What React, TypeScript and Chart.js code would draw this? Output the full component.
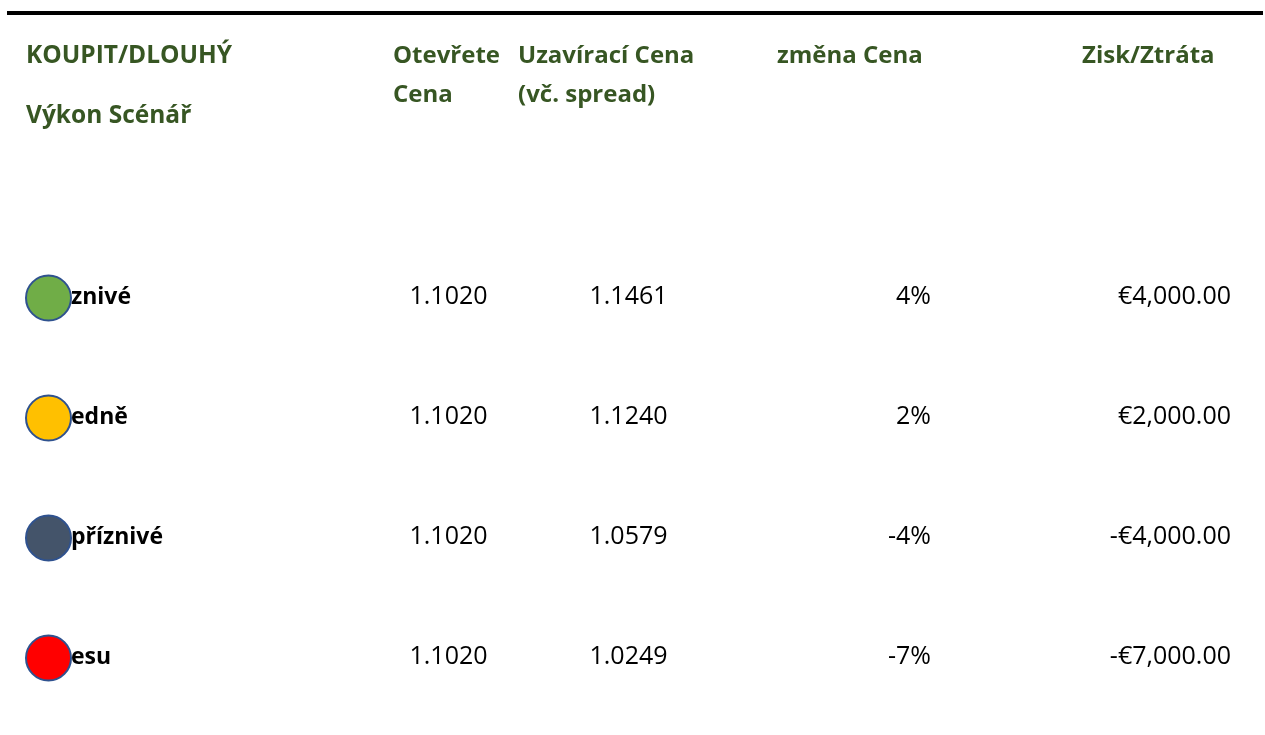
import React, { useEffect, useRef } from "react";
import { Chart, registerables } from "chart.js";

Chart.register(...registerables);

// ---- Data ----
const scenarios = ["Příznivé", "Středně", "Nepříznivé", "Stresu"];
const openPrices = [1.102, 1.102, 1.102, 1.102];
const closePrices = [1.1461, 1.124, 1.0579, 1.0249];
const priceChanges = [4, 2, -4, -7];
const profitLoss = [4000, 2000, -4000, -7000];
const scenarioColors = ["#70AD47", "#FFC000", "#44546A", "#FF0000"];

const titleLines = ["KOUPIT/DLOUHÝ", "Výkon Scénář"];
const headerOpen = ["Otevřete", "Cena"];
const headerClose = ["Uzavírací Cena", "(vč. spread)"];
const headerChange = ["změna Cena"];
const headerPL = ["Zisk/Ztráta"];

// ---- Layout ----
const W = 1265;
const H = 735;
const ROW0 = 298;
const ROWSTEP = 120;
const MARKER_X = 48.5;
const LABEL_VISIBLE_X = 71;
const hiddenChars = [3, 3, 2, 3]; // letters of each label covered by the marker
const GREEN = "#375623";
const FONT = "'Open Sans', 'Noto Sans', sans-serif";

const fmtPrice = (v: number) => v.toFixed(4);
const fmtPct = (v: number) => `${v}%`;
const fmtEur = (v: number) =>
  (v < 0 ? "-" : "") +
  "€" +
  Math.abs(v).toLocaleString("en-US", { minimumFractionDigits: 2, maximumFractionDigits: 2 });

const tablePlugin = {
  id: "tableText",
  beforeDatasetsDraw(chart: any) {
    const ctx = chart.ctx as CanvasRenderingContext2D;
    const y = chart.scales.y;
    ctx.save();
    // top rule
    ctx.fillStyle = "#000000";
    ctx.fillRect(7, 11, 1256, 4);

    // headers
    ctx.fillStyle = GREEN;
    ctx.textBaseline = "alphabetic";
    ctx.textAlign = "left";
    ctx.font = `bold 24.5px ${FONT}`;
    ctx.fillText(titleLines[0], 26, 63);
    ctx.fillText(titleLines[1], 26, 123);
    ctx.font = `bold 24px ${FONT}`;
    ctx.fillText(headerOpen[0], 393, 63);
    ctx.fillText(headerOpen[1], 393, 102);
    ctx.fillText(headerClose[0], 518, 63);
    ctx.fillText(headerClose[1], 518, 102);
    ctx.fillText(headerChange[0], 777, 63);
    ctx.fillText(headerPL[0], 1082, 63);

    // rows
    scenarios.forEach((name, i) => {
      const by = y.getPixelForValue(i) + 6;
      ctx.fillStyle = "#000000";
      ctx.font = `bold 23px ${FONT}`;
      ctx.textAlign = "left";
      const prefixW = ctx.measureText(name.slice(0, hiddenChars[i])).width;
      // label partly hidden behind the marker, as in the source sheet
      ctx.save();
      ctx.beginPath();
      ctx.rect(LABEL_VISIBLE_X - 1, by - 13, 300, 25);
      ctx.rect(LABEL_VISIBLE_X + 6, by - 40, 300, 28);
      ctx.clip();
      ctx.fillText(name, LABEL_VISIBLE_X - prefixW, by);
      ctx.restore();
      ctx.font = `25px ${FONT}`;
      ctx.textAlign = "center";
      ctx.fillText(fmtPrice(openPrices[i]), 448.5, by);
      ctx.fillText(fmtPrice(closePrices[i]), 628.5, by);
      ctx.textAlign = "right";
      ctx.fillText(fmtPct(priceChanges[i]), 931, by);
      ctx.fillText(fmtEur(profitLoss[i]), 1231, by);
    });
    ctx.restore();
  },
};

export default function App() {
  const ref = useRef<HTMLCanvasElement>(null);
  useEffect(() => {
    if (!ref.current) return;
    const chart = new Chart(ref.current, {
      type: "scatter",
      data: {
        datasets: [
          {
            label: "Scénář",
            data: scenarios.map((_, i) => ({ x: MARKER_X, y: i })),
            pointRadius: 22.5,
            pointHoverRadius: 22.5,
            pointBackgroundColor: scenarioColors,
            pointBorderColor: "#2F528F",
            pointBorderWidth: 2,
            pointHoverBorderWidth: 2,
            clip: false,
          },
        ],
      },
      options: {
        animation: false,
        responsive: true,
        maintainAspectRatio: false,
        events: [],
        layout: { padding: 0, autoPadding: false },
        plugins: { legend: { display: false }, tooltip: { enabled: false } },
        scales: {
          x: { type: "linear", min: 0, max: W, display: false },
          y: {
            type: "linear",
            reverse: true,
            min: -ROW0 / ROWSTEP,
            max: (H - ROW0) / ROWSTEP,
            display: false,
          },
        },
      },
      plugins: [tablePlugin],
    });
    return () => chart.destroy();
  }, []);
  return (
    <div style={{ position: "fixed", left: 0, top: 0, width: W, height: H, background: "#ffffff" }}>
      <canvas ref={ref} />
    </div>
  );
}
